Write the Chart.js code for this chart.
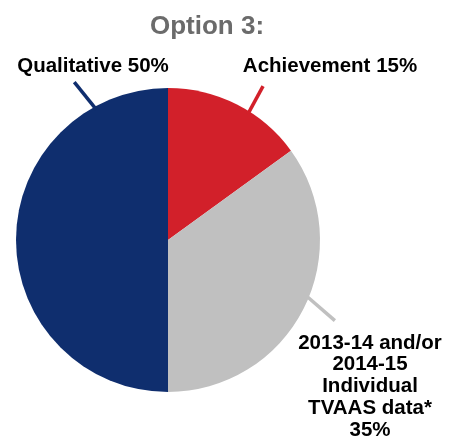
<!DOCTYPE html>
<html>
<head>
<meta charset="utf-8">
<script src="https://cdn.jsdelivr.net/npm/chart.js@4"></script>
<style>
  body { margin: 0; background: #fff; }
  #wrap { width: 456px; height: 439px; position: relative; }
</style>
</head>
<body>
<div id="wrap"><canvas id="pie"></canvas></div>
<script>
    // 데이터
    const categories = ['Achievement', '2013-14 and/or 2014-15 Individual TVAAS data*', 'Qualitative'];
    const shares = [15, 35, 50];
    const sliceColors = ['#d2202a', '#c0c0c0', '#0f2e6e'];
    const labelLines = [
        ['Achievement 15%'],
        ['2013-14 and/or', '2014-15', 'Individual', 'TVAAS data*', '35%'],
        ['Qualitative 50%']
    ];

    // 라벨 위치/리더선 설정 (스타일)
    const labelPos = [
        { x: 330, y: 66 },
        { x: 370, y: 343 },
        { x: 93, y: 66 }
    ];
    const leader = [
        { frac: 0.6, len: 29, tilt: -4 },
        { frac: 0.46, len: 35, tilt: 19 },
        { frac: 0.84, len: 32, tilt: -10 }
    ];

    const calloutPlugin = {
        id: 'callouts',
        afterDatasetsDraw(chart) {
            const ctx = chart.ctx;
            const arcs = chart.getDatasetMeta(0).data;
            ctx.save();
            // 제목
            ctx.fillStyle = '#6b6b6b';
            ctx.font = 'bold 26px "Liberation Sans", Arial, sans-serif';
            ctx.textAlign = 'center';
            ctx.textBaseline = 'middle';
            ctx.fillText('Option 3:', 207, 27);

            arcs.forEach((arc, i) => {
                const p = arc.getProps(['x', 'y', 'startAngle', 'endAngle', 'outerRadius'], true);
                const a = p.startAngle + leader[i].frac * (p.endAngle - p.startAngle);
                const r0 = p.outerRadius - 3;
                const x0 = p.x + Math.cos(a) * r0;
                const y0 = p.y + Math.sin(a) * r0;
                const d = a + leader[i].tilt * Math.PI / 180;
                const len = leader[i].len + 3;
                ctx.strokeStyle = sliceColors[i];
                ctx.lineWidth = 3.5;
                ctx.beginPath();
                ctx.moveTo(x0, y0);
                ctx.lineTo(x0 + Math.cos(d) * len, y0 + Math.sin(d) * len);
                ctx.stroke();

                ctx.fillStyle = '#000';
                ctx.font = 'bold 20.5px "Liberation Sans", Arial, sans-serif';
                labelLines[i].forEach((t, k) => {
                    ctx.fillText(t, labelPos[i].x, labelPos[i].y + k * 21.8);
                });
            });
            ctx.restore();
        }
    };

    function renderChart() {
        new Chart(document.getElementById('pie'), {
            type: 'pie',
            data: {
                labels: categories,
                datasets: [{
                    data: shares,
                    backgroundColor: sliceColors,
                    borderWidth: 0
                }]
            },
            options: {
                responsive: true,
                maintainAspectRatio: false,
                animation: false,
                layout: { padding: { left: 16, right: 136, top: 88, bottom: 47 } },
                plugins: {
                    legend: { display: false },
                    tooltip: { enabled: false }
                }
            },
            plugins: [calloutPlugin]
        });
    }

    window.onload = function() {
        renderChart();
    };
</script>
</body>
</html>
